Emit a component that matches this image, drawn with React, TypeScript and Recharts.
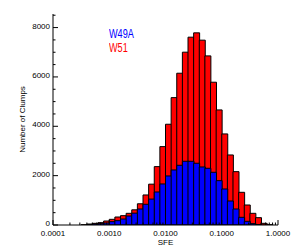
import React from 'react';
import { ComposedChart, Bar, Line, XAxis, YAxis, Legend } from 'recharts';

// SFE bins: log10 of each bin's lower edge (0.1 dex wide)
const binLogLow = [
  -4.0, -3.9, -3.8, -3.7, -3.6, -3.5, -3.4, -3.3, -3.2, -3.1,
  -3.0, -2.9, -2.8, -2.7, -2.6, -2.5, -2.4, -2.3, -2.2, -2.1,
  -2.0, -1.9, -1.8, -1.7, -1.6, -1.5, -1.4, -1.3, -1.2, -1.1,
  -1.0, -0.9, -0.8, -0.7, -0.6, -0.5, -0.4, -0.3, -0.2, -0.1,
];

const w51Counts = [
  0, 0, 0, 0, 0, 10, 40, 68, 95, 162,
  230, 324, 378, 473, 615, 860, 1217, 1655, 2366, 3176,
  4083, 5162, 6150, 7003, 7611, 7786, 7490, 6853, 5786, 4663,
  3690, 2838, 2162, 1325, 811, 473, 297, 68, 10, 0,
];

const w49aCounts = [
  0, 0, 0, 0, 0, 0, 15, 40, 54, 81,
  135, 176, 243, 365, 480, 649, 839, 1050, 1338, 1663,
  1987, 2230, 2420, 2582, 2582, 2502, 2352, 2298, 2136, 1797,
  1460, 973, 649, 311, 149, 55, 12, 0, 0, 0,
];

const xTickValues = [
  0.0001, 0.0002, 0.0003, 0.0004, 0.0005, 0.0006, 0.0007, 0.0008, 0.0009,
  0.001, 0.002, 0.003, 0.004, 0.005, 0.006, 0.007, 0.008, 0.009,
  0.01, 0.02, 0.03, 0.04, 0.05, 0.06, 0.07, 0.08, 0.09,
  0.1, 0.2, 0.3, 0.4, 0.5, 0.6, 0.7, 0.8, 0.9,
  1,
];
const xMajorValues = [0.0001, 0.001, 0.01, 0.1, 1];
const xMajorLabels = ['0.0001', '0.0010', '0.0100', '0.1000', '1.0000'];

const yTickValues = [
  0, 500, 1000, 1500, 2000, 2500, 3000, 3500, 4000,
  4500, 5000, 5500, 6000, 6500, 7000, 7500, 8000, 8500,
];
const yMajorValues = [0, 2000, 4000, 6000, 8000];

const data = binLogLow.map((lo, i) => ({
  bin: lo,
  sfe: Math.pow(10, lo + 0.05),
  w51: w51Counts[i],
  w49a: w49aCounts[i],
}));

const FONT = "'Liberation Sans', Arial, Helvetica, sans-serif";
const MAJOR = 5;
const MINOR = 2.5;

const BottomTick = (props: any) => {
  const { x, y, payload } = props;
  const idx = xMajorValues.indexOf(payload.value);
  const major = idx >= 0;
  return (
    <g>
      <line x1={x} x2={x} y1={y} y2={y - (major ? MAJOR : MINOR)} stroke="#000" strokeWidth={1} />
      {major && (
        <text x={x} y={y + 5} dy="0.71em" textAnchor="middle" fontSize={8} fill="#000" fontFamily={FONT}>
          {xMajorLabels[idx]}
        </text>
      )}
    </g>
  );
};

const TopTick = (props: any) => {
  const { x, y, payload } = props;
  const major = xMajorValues.indexOf(payload.value) >= 0;
  return <line x1={x} x2={x} y1={y} y2={y + (major ? MAJOR : MINOR)} stroke="#000" strokeWidth={1} />;
};

const LeftTick = (props: any) => {
  const { x, y, payload } = props;
  const major = yMajorValues.indexOf(payload.value) >= 0;
  return (
    <g>
      <line x1={x} x2={x + (major ? MAJOR : MINOR)} y1={y} y2={y} stroke="#000" strokeWidth={1} />
      {major && (
        <text x={x - 3} y={y} dy="0.15em" textAnchor="end" fontSize={8} fill="#000" fontFamily={FONT}>
          {payload.value}
        </text>
      )}
    </g>
  );
};

const RightTick = (props: any) => {
  const { x, y, payload } = props;
  const major = yMajorValues.indexOf(payload.value) >= 0;
  return <line x1={x} x2={x - (major ? MAJOR : MINOR)} y1={y} y2={y} stroke="#000" strokeWidth={1} />;
};

const LegendContent = (props: any) => {
  const items = (props.payload || []).filter((it: any) => it.type !== 'none');
  return (
    <div style={{ fontFamily: FONT, fontSize: 12, lineHeight: '13.5px' }}>
      {items.map((it: any) => (
        <div
          key={it.value}
          style={{ color: it.color, transform: 'scaleX(0.76)', transformOrigin: 'left center', whiteSpace: 'nowrap' }}
        >
          {it.value}
        </div>
      ))}
    </div>
  );
};

export default function App() {
  return (
    <div style={{ position: 'fixed', left: 0, top: 0, background: '#fff', fontFamily: FONT }}>
      <ComposedChart
        width={300}
        height={250}
        data={data}
        margin={{ top: 14, right: 22, bottom: 0, left: 0 }}
        barCategoryGap={0}
        barGap={0}
      >
        <XAxis xAxisId="w51" dataKey="bin" type="category" hide />
        <XAxis xAxisId="w49a" dataKey="bin" type="category" hide />
        <XAxis
          xAxisId="sfe"
          dataKey="sfe"
          orientation="bottom"
          type="number"
          scale="log"
          domain={[0.0001, 1]}
          allowDataOverflow
          ticks={xTickValues}
          interval={0}
          tickSize={0}
          tickMargin={0}
          height={25}
          axisLine={{ stroke: '#000', strokeWidth: 1 }}
          tick={<BottomTick />}
          label={{ value: 'SFE', position: 'insideBottom', offset: 5, fontSize: 8, fill: '#000', fontFamily: FONT }}
        />
        <XAxis
          xAxisId="top"
          dataKey="sfe"
          orientation="top"
          type="number"
          scale="log"
          domain={[0.0001, 1]}
          allowDataOverflow
          ticks={xTickValues}
          interval={0}
          tickSize={0}
          tickMargin={0}
          height={0}
          axisLine={{ stroke: '#000', strokeWidth: 1 }}
          tick={<TopTick />}
        />
        <YAxis
          yAxisId="left"
          orientation="left"
          type="number"
          domain={[0, 8550]}
          allowDataOverflow
          ticks={yTickValues}
          interval={0}
          tickSize={0}
          tickMargin={0}
          width={53}
          axisLine={{ stroke: '#000', strokeWidth: 1 }}
          tick={<LeftTick />}
          label={{
            value: 'Number of Clumps',
            angle: -90,
            position: 'insideLeft',
            offset: 22,
            fontSize: 8,
            fill: '#000',
            fontFamily: FONT,
            style: { textAnchor: 'middle' },
          }}
        />
        <YAxis
          yAxisId="right"
          orientation="right"
          type="number"
          domain={[0, 8550]}
          allowDataOverflow
          ticks={yTickValues}
          interval={0}
          tickSize={0}
          tickMargin={0}
          width={0}
          axisLine={{ stroke: '#000', strokeWidth: 1 }}
          tick={<RightTick />}
        />
        <Legend
          layout="vertical"
          align="center"
          verticalAlign="middle"
          content={<LegendContent />}
          wrapperStyle={{ left: 109, top: 28, width: 60, height: 30 }}
        />
        <Bar
          xAxisId="w51"
          yAxisId="left"
          dataKey="w51"
          name="W51"
          fill="#ff0000"
          stroke="#000"
          strokeWidth={1}
          isAnimationActive={false}
        />
        <Bar
          xAxisId="w49a"
          yAxisId="left"
          dataKey="w49a"
          name="W49A"
          fill="#0000ff"
          stroke="#000"
          strokeWidth={1}
          isAnimationActive={false}
        />
        {/* invisible helper series so the log-scaled frame axes and right axis get drawn */}
        <Line
          xAxisId="sfe"
          yAxisId="right"
          dataKey="w51"
          stroke="#000"
          strokeOpacity={0}
          dot={false}
          activeDot={false}
          legendType="none"
          isAnimationActive={false}
        />
        <Line
          xAxisId="top"
          yAxisId="right"
          dataKey="w49a"
          stroke="#000"
          strokeOpacity={0}
          dot={false}
          activeDot={false}
          legendType="none"
          isAnimationActive={false}
        />
      </ComposedChart>
    </div>
  );
}
